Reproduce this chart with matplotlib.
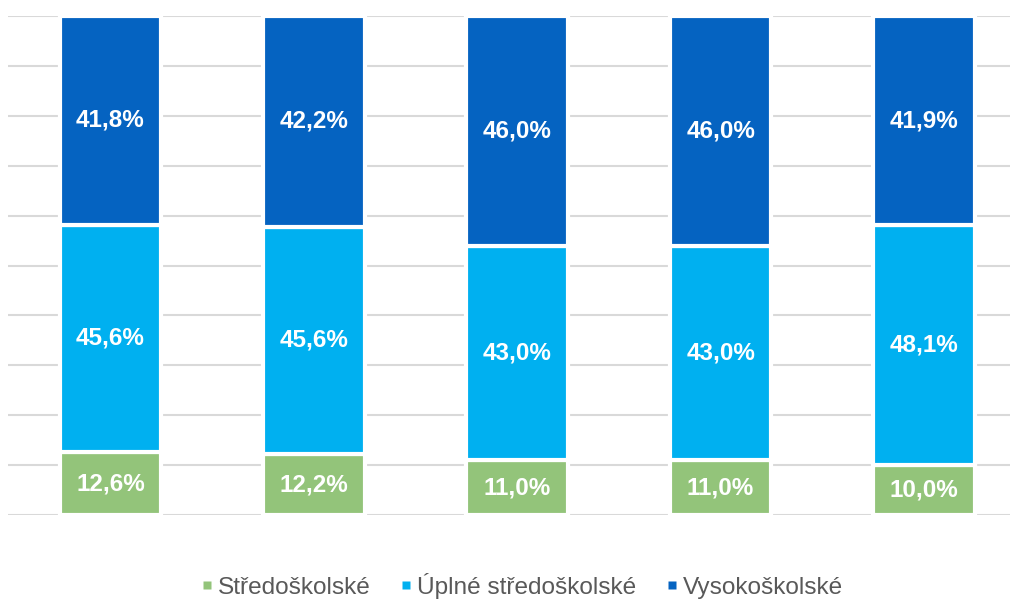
import matplotlib.pyplot as plt
import numpy as np
from matplotlib.lines import Line2D

# -------------------------------
# Data
# -------------------------------
categories = ["1", "2", "3", "4", "5"]
stredoskolske = [12.6, 12.2, 11.0, 11.0, 10.0]
uplne_stredoskolske = [45.6, 45.6, 43.0, 43.0, 48.1]
vysokoskolske = [41.8, 42.2, 46.0, 46.0, 41.9]
series_names = ["Středoškolské", "Úplné středoškolské", "Vysokoškolské"]
colors = ["#93C47A", "#00B0F0", "#0563C1"]

plt.rcParams["font.family"] = ["Liberation Sans", "DejaVu Sans"]

fig = plt.figure(figsize=(10.13, 5.99), dpi=100)
ax = fig.add_axes([0.0079, 0.1402, 0.9891, 0.8331])

x = np.arange(len(categories))
bottom = np.zeros(len(categories))

for values, color in zip([stredoskolske, uplne_stredoskolske, vysokoskolske], colors):
    vals = np.array(values)
    ax.bar(x, vals, bottom=bottom, width=0.5, color=color,
           edgecolor="white", linewidth=3, zorder=3)
    for xi, b, v in zip(x, bottom, vals):
        ax.text(xi, b + v / 2, f"{v:.1f}%".replace(".", ","),
                ha="center", va="center", color="white",
                fontsize=17.5, fontweight="bold", zorder=4)
    bottom += vals

# -------------------------------
# Axes styling
# -------------------------------
ax.set_xlim(-0.504, 4.423)
ax.set_ylim(0, 100)
ax.set_yticks(np.arange(0, 101, 10))
ax.yaxis.grid(True, color="#D9D9D9", linewidth=1.5, zorder=0)
ax.set_axisbelow(True)
ax.tick_params(left=False, bottom=False, labelleft=False, labelbottom=False)
for spine in ax.spines.values():
    spine.set_visible(False)

handles = [Line2D([], [], linestyle="none", marker="s", markersize=6,
                  markerfacecolor=c, markeredgecolor="none") for c in colors]
fig.legend(handles, series_names, loc="center", bbox_to_anchor=(0.516, 0.022),
           ncol=3, frameon=False, fontsize=17.6, labelcolor="#595959",
           handlelength=0.4, handletextpad=0.25,
           columnspacing=1.25, borderpad=0, borderaxespad=0)

fig.savefig("out.png", dpi=100)
